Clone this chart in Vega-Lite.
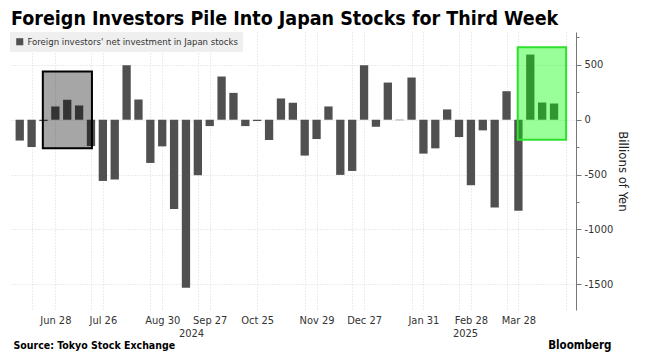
{
  "$schema": "https://vega.github.io/schema/vega-lite/v6.json",
  "width": 566,
  "height": 278,
  "autosize": {"type": "none"},
  "padding": {"left": 10, "top": 32, "right": 79, "bottom": 51},
  "background": "#ffffff",
  "title": {
    "text": "Foreign Investors Pile Into Japan Stocks for Third Week",
    "anchor": "start",
    "frame": "group",
    "font": "DejaVu Sans Condensed, DejaVu Sans",
    "fontSize": 19.5,
    "fontWeight": "bold",
    "color": "#000000",
    "baseline": "alphabetic",
    "offset": -12,
    "dx": 1
  },
  "config": {
    "view": {"stroke": null},
    "font": "DejaVu Sans Condensed, DejaVu Sans",
    "axis": {
      "labelFont": "DejaVu Sans Condensed, DejaVu Sans",
      "titleFont": "DejaVu Sans Condensed, DejaVu Sans",
      "labelColor": "#333333",
      "titleColor": "#222222",
      "gridColor": "#d9d9d9",
      "gridDash": [1, 2],
      "gridWidth": 1
    }
  },
  "datasets": {
    "flows": [
      {"date": "2024-06-07", "value": -190},
      {"date": "2024-06-14", "value": -249},
      {"date": "2024-06-21", "value": -12},
      {"date": "2024-06-28", "value": 121},
      {"date": "2024-07-05", "value": 182},
      {"date": "2024-07-12", "value": 130},
      {"date": "2024-07-19", "value": -240},
      {"date": "2024-07-26", "value": -558},
      {"date": "2024-08-02", "value": -545},
      {"date": "2024-08-09", "value": 497},
      {"date": "2024-08-16", "value": 185},
      {"date": "2024-08-23", "value": -394},
      {"date": "2024-08-30", "value": -243},
      {"date": "2024-09-06", "value": -815},
      {"date": "2024-09-13", "value": -1531},
      {"date": "2024-09-20", "value": -506},
      {"date": "2024-09-27", "value": -58},
      {"date": "2024-10-04", "value": 394},
      {"date": "2024-10-11", "value": 245},
      {"date": "2024-10-18", "value": -58},
      {"date": "2024-10-25", "value": -12},
      {"date": "2024-11-01", "value": -185},
      {"date": "2024-11-08", "value": 194},
      {"date": "2024-11-15", "value": 155},
      {"date": "2024-11-22", "value": -327},
      {"date": "2024-11-29", "value": -176},
      {"date": "2024-12-06", "value": 121},
      {"date": "2024-12-13", "value": -503},
      {"date": "2024-12-20", "value": -467},
      {"date": "2024-12-27", "value": 497},
      {"date": "2025-01-03", "value": -64},
      {"date": "2025-01-10", "value": 339},
      {"date": "2025-01-17", "value": -4},
      {"date": "2025-01-24", "value": 385},
      {"date": "2025-01-31", "value": -309},
      {"date": "2025-02-07", "value": -261},
      {"date": "2025-02-14", "value": 94},
      {"date": "2025-02-21", "value": -158},
      {"date": "2025-02-28", "value": -597},
      {"date": "2025-03-07", "value": -97},
      {"date": "2025-03-14", "value": -800},
      {"date": "2025-03-21", "value": 260},
      {"date": "2025-03-28", "value": -831},
      {"date": "2025-04-04", "value": 594},
      {"date": "2025-04-11", "value": 157},
      {"date": "2025-04-18", "value": 148}
    ],
    "grayBox": [
      {"start": "2024-06-20T14:40:00Z", "end": "2024-07-19T13:40:00Z", "top": 439, "bottom": -261}
    ],
    "greenBox": [
      {"start": "2025-03-27T13:30:00Z", "end": "2025-04-25T03:00:00Z", "top": 661, "bottom": -182}
    ]
  },
  "resolve": {
    "scale": {"x": "shared", "y": "shared"},
    "axis": {"x": "independent", "y": "independent"}
  },
  "layer": [
    {
      "data": {"name": "flows"},
      "mark": {"type": "bar", "width": 8.3},
      "encoding": {
        "x": {
          "field": "date",
          "type": "temporal",
          "scale": {
            "type": "utc",
            "domain": [1717477200000, 1745798400000]
          },
          "axis": {
            "orient": "bottom",
            "title": null,
            "values": [
              {"year": 2024, "month": 6, "date": 14, "utc": true},
              {"year": 2024, "month": 6, "date": 28, "utc": true},
              {"year": 2024, "month": 7, "date": 19, "utc": true},
              {"year": 2024, "month": 7, "date": 26, "utc": true},
              {"year": 2024, "month": 8, "date": 23, "utc": true},
              {"year": 2024, "month": 8, "date": 30, "utc": true},
              {"year": 2024, "month": 9, "date": 20, "utc": true},
              {"year": 2024, "month": 9, "date": 27, "utc": true},
              {"year": 2024, "month": 10, "date": 25, "utc": true},
              {"year": 2024, "month": 11, "date": 22, "utc": true},
              {"year": 2024, "month": 11, "date": 29, "utc": true},
              {"year": 2024, "month": 12, "date": 20, "utc": true},
              {"year": 2024, "month": 12, "date": 27, "utc": true},
              {"year": 2025, "month": 1, "date": 24, "utc": true},
              {"year": 2025, "month": 1, "date": 31, "utc": true},
              {"year": 2025, "month": 2, "date": 21, "utc": true},
              {"year": 2025, "month": 2, "date": 28, "utc": true},
              {"year": 2025, "month": 3, "date": 21, "utc": true},
              {"year": 2025, "month": 3, "date": 28, "utc": true},
              {"year": 2025, "month": 4, "date": 25, "utc": true}
            ],
            "labelExpr": "indexof(['Jun 28','Jul 26','Aug 30','Sep 27','Oct 25','Nov 29','Dec 27','Jan 31','Feb 28','Mar 28'], utcFormat(datum.value, '%b %d')) >= 0 ? utcFormat(datum.value, '%b %d') : ''",
            "grid": true,
            "ticks": false,
            "domain": false,
            "labelFontSize": 11,
            "labelPadding": 4,
            "labelOverlap": false,
            "labelBound": false,
            "labelFlush": false
          }
        },
        "y": {
          "field": "value",
          "type": "quantitative",
          "scale": {"domain": [-1735, 800], "nice": false, "zero": false},
          "axis": {
            "orient": "right",
            "title": "Billions of Yen",
            "titleAngle": 90,
            "titleFontSize": 13,
            "titleFontWeight": "normal",
            "titlePadding": 3,
            "values": [-1500, -1000, -500, 0, 500],
            "labelExpr": "'' + datum.value",
            "grid": true,
            "tickSize": 5,
            "tickColor": "#777777",
            "domainColor": "#777777",
            "labelFontSize": 11,
            "labelPadding": 3
          }
        },
        "color": {
          "datum": "Foreign investors' net investment in Japan stocks",
          "type": "nominal",
          "scale": {"range": ["#505050"]},
          "legend": {
            "title": null,
            "orient": "top-left",
            "offset": 0,
            "fillColor": "#efefef",
            "padding": 5,
            "symbolType": "square",
            "symbolSize": 50,
            "symbolStrokeWidth": 0,
            "labelFont": "DejaVu Sans Condensed, DejaVu Sans",
            "labelFontSize": 9.5,
            "labelColor": "#333333",
            "labelOffset": 3,
            "labelLimit": 500
          }
        }
      }
    },
    {
      "data": {"name": "grayBox"},
      "mark": {"type": "rect", "fill": "#000000", "fillOpacity": 0.35, "stroke": "#000000", "strokeWidth": 2},
      "encoding": {
        "x": {
          "field": "start",
          "type": "temporal",
          "axis": {
            "orient": "bottom",
            "values": [
              {"year": 2024, "month": 9, "date": 16, "utc": true},
              {"year": 2025, "month": 2, "date": 24, "hours": 12, "utc": true}
            ],
            "labelExpr": "utcFormat(datum.value, '%Y')",
            "grid": false,
            "ticks": false,
            "domain": false,
            "labelFontSize": 11,
            "labelPadding": 17,
            "labelOverlap": false,
            "labelBound": false,
            "labelFlush": false,
            "title": "Source: Tokyo Stock Exchange",
            "titleFontSize": 10.5,
            "titleFontWeight": "bold",
            "titleColor": "#000000",
            "titleAnchor": "start",
            "titleAlign": "left",
            "titleBaseline": "alphabetic",
            "titleX": 3,
            "titleY": 38
          }
        },
        "x2": {"field": "end"},
        "y": {
          "field": "top",
          "type": "quantitative",
          "axis": {
            "orient": "right",
            "values": [-1250, -750, -250, 250, 750],
            "labels": false,
            "grid": false,
            "domain": false,
            "tickSize": 3,
            "tickColor": "#777777",
            "title": null
          }
        },
        "y2": {"field": "bottom"}
      }
    },
    {
      "data": {"name": "greenBox"},
      "mark": {"type": "rect", "fill": "#00ff00", "fillOpacity": 0.4, "stroke": "#2fe02f", "strokeWidth": 2},
      "encoding": {
        "x": {
          "field": "start",
          "type": "temporal",
          "axis": {
            "orient": "bottom",
            "values": [],
            "grid": false,
            "ticks": false,
            "domain": false,
            "labels": false,
            "title": "Bloomberg",
            "titleFontSize": 11.5,
            "titleFontWeight": "bold",
            "titleColor": "#000000",
            "titleAnchor": "end",
            "titleAlign": "right",
            "titleBaseline": "alphabetic",
            "titleX": 601,
            "titleY": 38
          }
        },
        "x2": {"field": "end"},
        "y": {"field": "top", "type": "quantitative", "axis": null},
        "y2": {"field": "bottom"}
      }
    }
  ]
}
